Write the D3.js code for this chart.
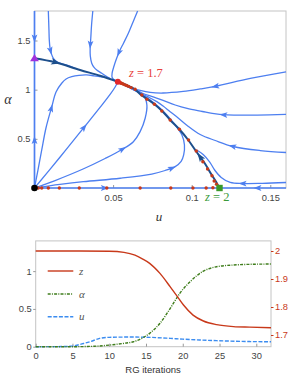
<!DOCTYPE html>
<html>
<head>
<meta charset="utf-8">
<script src="https://cdn.jsdelivr.net/npm/d3@7"></script>
<style>
  body { margin: 0; background: #fff; }
</style>
</head>
<body>
<svg width="299" height="387"></svg>
<script>
// ---- phase portrait, points are [u, alpha] ----
const lineS1 = [[0.0088,1.80],[0.0092,1.607],[0.0094,1.506],[0.0099,1.421],[0.0108,1.363],[0.012,1.319],[0.014,1.287],[0.0162,1.269],[0.0201,1.251],[0.026,1.216]];
const lineS2 = [[0.0371,1.80],[0.0363,1.658],[0.0358,1.523],[0.0354,1.421],[0.0355,1.343],[0.0364,1.269],[0.0379,1.226],[0.0396,1.200],[0.0428,1.167],[0.0449,1.144],[0.0481,1.113]];
const lineS3 = [[0.0656,1.80],[0.0627,1.689],[0.0597,1.574],[0.0567,1.475],[0.054,1.389],[0.0522,1.317],[0.0506,1.241],[0.0494,1.170],[0.0494,1.124],[0.0513,1.094],[0.053,1.081]];
const lineL1 = [[0,0],[0.0022,0.183],[0.0046,0.387],[0.0073,0.610],[0.011,0.827],[0.0137,0.977],[0.0173,1.065],[0.0201,1.109],[0.0237,1.132],[0.0283,1.146],[0.0332,1.150],[0.0379,1.141],[0.0443,1.126]];
const lineL2 = [[0,0],[0.0163,0.315],[0.0311,0.608],[0.0417,0.819],[0.0481,0.951],[0.0513,1.027],[0.053,1.081]];
const lineL3 = [[0,0],[0.0131,0.076],[0.0309,0.193],[0.0449,0.300],[0.0557,0.392],[0.0629,0.471],[0.0672,0.573],[0.0704,0.709],[0.0715,0.844],[0.0693,0.946],[0.064,1.002],[0.0583,1.048],[0.053,1.081]];
const lineL4 = [[0,0],[0.0162,0.036],[0.0311,0.064],[0.0545,0.099],[0.0746,0.142],[0.0831,0.178],[0.0895,0.217],[0.0933,0.270],[0.0949,0.336],[0.0954,0.437],[0.0938,0.539],[0.0895,0.641],[0.0842,0.743],[0.0789,0.827],[0.0736,0.895],[0.0672,0.963],[0.0608,1.017],[0.053,1.081]];
const lineR1 = [[0.16,1.180],[0.1373,1.114],[0.115,1.033],[0.1054,1.007],[0.0946,0.982],[0.0818,0.966],[0.0736,0.972],[0.0672,0.992],[0.0608,1.022],[0.053,1.081]];
const lineR2 = [[0.16,0.748],[0.1417,0.741],[0.1226,0.743],[0.1131,0.758],[0.1068,0.778],[0.0971,0.809],[0.0895,0.844],[0.0818,0.890],[0.0755,0.926],[0.0691,0.961],[0.0627,1.007],[0.057,1.051],[0.053,1.081]];
const lineR3 = [[0.16,0.361],[0.1436,0.381],[0.1264,0.422],[0.115,0.483],[0.1054,0.544],[0.0971,0.636],[0.0914,0.712],[0.0863,0.776],[0.0818,0.834],[0.0778,0.878],[0.0723,0.926],[0.0659,0.977],[0.0596,1.027],[0.053,1.081]];
const lineR4 = [[0.16,0.056],[0.1449,0.048],[0.1328,0.046],[0.1245,0.056],[0.1188,0.107],[0.1146,0.183],[0.1115,0.264],[0.1073,0.341],[0.1032,0.387]];
const axisTop = [[0,1.8],[0,1.32]];
const axisBottom = [[0,0],[0,1.32]];
const baseLeft = [[0,0],[0.1177,0]];
const baseRight = [[0.16,0],[0.1177,0]];
const sepA = [[0,1.32],[0.0131,1.279],[0.029,1.200],[0.0417,1.142],[0.053,1.081]];
const sepB = [[0.1175,0],[0.1156,0.061],[0.1124,0.142],[0.1086,0.244],[0.1054,0.315],[0.1022,0.387],[0.0978,0.488],[0.092,0.600],[0.0863,0.692],[0.0812,0.783],[0.0761,0.855],[0.0717,0.905],[0.0678,0.946],[0.064,1.002],[0.0583,1.048],[0.053,1.081]];
const rgDots = [[0.0024,0],[0.0046,0],[0.0088,0],[0.0158,0],[0.0285,0],[0.046,0],[0.0672,0],[0.0867,0],[0.1008,0],[0.1092,0],[0.1135,0.003],[0.1158,0.038],[0.1143,0.071],[0.1129,0.125],[0.1101,0.193],[0.1071,0.267],[0.1029,0.376],[0.098,0.488],[0.0922,0.597],[0.0863,0.692],[0.081,0.783],[0.0763,0.851],[0.0715,0.902],[0.0683,0.946],[0.064,1.004],[0.0615,1.021],[0.0599,1.033],[0.0586,1.042],[0.0575,1.049],[0.0566,1.056],[0.0557,1.062],[0.0551,1.066],[0.0546,1.070],[0.0542,1.073],[0.0539,1.075],[0.0536,1.077],[0.0534,1.078]];
const fpGauss = [0, 0], fpAxis = [0, 1.32], fpZ17 = [0.053, 1.081], fpZ2 = [0.1177, 0];
const topXTicks = [0.05, 0.1, 0.15], topYTicks = [0.5, 1, 1.5];

// ---- RG iteration curves, points are [iteration, value] ----
const zSeries = [[0,2],[6,2],[10,1.999],[12,1.995],[13.5,1.985],[14.5,1.972],[15.5,1.956],[16.9,1.92],[18.3,1.872],[19.2,1.84],[20.1,1.807],[21.4,1.771],[22.8,1.75],[24.6,1.737],[26.9,1.73],[29.1,1.728],[32,1.726]];
const alphaSeries = [[0,0],[5,0],[8,0.006],[10.1,0.022],[12,0.045],[13.3,0.066],[14.5,0.115],[15.5,0.177],[16.9,0.31],[18.3,0.508],[19.6,0.706],[21,0.86],[22.8,1.0],[24.6,1.058],[26.9,1.081],[29.1,1.09],[32,1.094]];
const uSeries = [[0,0],[3.5,0.002],[4.8,0.008],[5.6,0.02],[6.5,0.042],[7.4,0.066],[8.7,0.11],[10,0.124],[13.2,0.128],[15.5,0.124],[18.3,0.11],[20,0.1],[22.3,0.089],[24.6,0.08],[29.1,0.068],[32,0.066]];
const iterTicks = [0, 5, 10, 15, 20, 25, 30], leftTicks = [0, 0.5, 1], zTicks = [1.7, 1.8, 1.9, 2];

const blue = '#4d7ff0', navy = '#1d4f8c', rust = '#c8391a', green = '#3f7d1c', ublue = '#3b8cf0';
const sans = '"Liberation Sans", Arial, sans-serif', serif = '"Liberation Serif", "Times New Roman", serif';

const svg = d3.select('svg');

// top panel scales
const x = d3.scaleLinear().domain([0, 0.16]).range([34.5, 286]);
const y = d3.scaleLinear().domain([0, 1.8]).range([188, 11]);
const line = d3.line().x(d => x(d[0])).y(d => y(d[1])).curve(d3.curveCatmullRom.alpha(0.5));

svg.append('rect').attr('x', x(0)).attr('y', y(1.8)).attr('width', x(0.16) - x(0)).attr('height', y(0) - y(1.8))
    .attr('fill', 'none').attr('stroke', '#c4c4c4').attr('stroke-width', 1);

function styleAxis(g, color) {
    g.select('.domain').remove();
    g.selectAll('line').attr('stroke', '#999');
    g.selectAll('text').attr('font-family', sans).attr('font-size', 9.3).attr('fill', color || '#444');
}

svg.append('g').attr('transform', `translate(0,${y(0)})`)
    .call(d3.axisBottom(x).tickValues(topXTicks).tickSizeInner(-3).tickSizeOuter(0).tickPadding(6.5).tickFormat(d => d))
    .call(g => styleAxis(g));
svg.append('g').attr('transform', `translate(${x(0)},0)`)
    .call(d3.axisLeft(y).tickValues(topYTicks).tickSizeInner(-3).tickSizeOuter(0).tickPadding(4).tickFormat(d => d))
    .call(g => styleAxis(g));

function drawArrow(path, at, color, size) {
    const node = path.node();
    const len = node.getTotalLength();
    const p = node.getPointAtLength(at * len);
    const q = node.getPointAtLength(Math.min(len, at * len + 1));
    const ang = Math.atan2(q.y - p.y, q.x - p.x) * 180 / Math.PI;
    const s = size;
    svg.append('path')
        .attr('d', `M${s},0L${-s},${-s * 0.72}L${-s * 0.55},0L${-s},${s * 0.72}Z`)
        .attr('transform', `translate(${p.x},${p.y}) rotate(${ang})`)
        .attr('fill', color);
}

const streams = [
    {pts: lineS1, at: 0.55}, {pts: lineS2, at: 0.44}, {pts: lineS3, at: 0.58},
    {pts: lineL1, at: 0.53}, {pts: lineL2, at: 0.58}, {pts: lineL3, at: 0.51}, {pts: lineL4, at: 0.53},
    {pts: lineR1, at: 0.42}, {pts: lineR2, at: 0.36}, {pts: lineR3, at: 0.29}, {pts: lineR4, at: 0.42}
];
streams.forEach(s => {
    const p = svg.append('path').datum(s.pts).attr('d', line)
        .attr('fill', 'none').attr('stroke', blue).attr('stroke-width', 1.3);
    drawArrow(p, s.at, blue, 4);
});

[{pts: axisTop, at: 0.58}, {pts: axisBottom, at: 0.37}, {pts: baseLeft, at: 0.38}, {pts: baseRight, at: 0.43}].forEach(s => {
    const p = svg.append('path').datum(s.pts).attr('d', d3.line().x(d => x(d[0])).y(d => y(d[1])))
        .attr('fill', 'none').attr('stroke', blue).attr('stroke-width', 1.7);
    drawArrow(p, s.at, blue, 4);
});

[{pts: sepA, at: 0.25}, {pts: sepB, at: 0.245}].forEach(s => {
    const p = svg.append('path').datum(s.pts).attr('d', line)
        .attr('fill', 'none').attr('stroke', navy).attr('stroke-width', 2);
    drawArrow(p, s.at, navy, 4.5);
});

svg.append('g').selectAll('circle').data(rgDots).join('circle')
    .attr('cx', d => x(d[0])).attr('cy', d => y(d[1])).attr('r', 1.7).attr('fill', rust);

// fixed points
svg.append('circle').attr('cx', x(fpGauss[0])).attr('cy', y(fpGauss[1])).attr('r', 3.3).attr('fill', '#000');
svg.append('path').attr('d', 'M0,-4.2L4.4,3L-4.4,3Z')
    .attr('transform', `translate(${x(fpAxis[0])},${y(fpAxis[1])})`).attr('fill', '#a032dc');
svg.append('circle').attr('cx', x(fpZ17[0])).attr('cy', y(fpZ17[1])).attr('r', 3).attr('fill', '#e3262a');
svg.append('rect').attr('x', x(fpZ2[0]) - 3.2).attr('y', y(fpZ2[1]) - 3.2).attr('width', 6.4).attr('height', 6.4).attr('fill', '#3a9a28');

const lab1 = svg.append('text').attr('x', 129).attr('y', 77).attr('font-family', serif).attr('font-size', 12.5).attr('fill', '#e8403a');
lab1.append('tspan').attr('font-style', 'italic').text('z');
lab1.append('tspan').text(' = 1.7');
const lab2 = svg.append('text').attr('x', 205).attr('y', 201).attr('font-family', serif).attr('font-size', 12.5).attr('fill', '#3a9a3a');
lab2.append('tspan').attr('font-style', 'italic').text('z');
lab2.append('tspan').text(' = 2');

svg.append('text').attr('x', 159).attr('y', 221).attr('text-anchor', 'middle').attr('font-family', serif)
    .attr('font-style', 'italic').attr('font-size', 13).attr('fill', '#333').text('u');
svg.append('text').attr('x', 8).attr('y', 104).attr('text-anchor', 'middle').attr('font-family', serif)
    .attr('font-style', 'italic').attr('font-size', 14).attr('fill', '#333').text('α');

// ---- bottom panel ----
const x2 = d3.scaleLinear().domain([0, 32]).range([35.7, 271]);
const yL = d3.scaleLinear().domain([0, 1.4]).range([346.7, 240.9]);
const yR = d3.scaleLinear().domain([1.7, 2]).range([335, 251]);

svg.append('rect').attr('x', x2(0)).attr('y', yL(1.4)).attr('width', x2(32) - x2(0)).attr('height', yL(0) - yL(1.4))
    .attr('fill', 'none').attr('stroke', '#c4c4c4').attr('stroke-width', 1);

svg.append('g').attr('transform', `translate(0,${yL(0)})`)
    .call(d3.axisBottom(x2).tickValues(iterTicks).tickSizeInner(-3).tickSizeOuter(0).tickPadding(5.6))
    .call(g => styleAxis(g));
svg.append('g').attr('transform', `translate(${x2(0)},0)`)
    .call(d3.axisLeft(yL).tickValues(leftTicks).tickSizeInner(2.5).tickSizeOuter(0).tickPadding(1.5).tickFormat(d => d))
    .call(g => styleAxis(g));
svg.append('g').attr('transform', `translate(${x2(32)},0)`)
    .call(d3.axisRight(yR).tickValues(zTicks).tickSizeInner(2.5).tickSizeOuter(0).tickPadding(1.5).tickFormat(d => d))
    .call(g => { styleAxis(g, rust); g.selectAll('line').attr('stroke', rust); });

svg.append('text').attr('x', 153).attr('y', 373).attr('text-anchor', 'middle').attr('font-family', sans)
    .attr('font-size', 9.5).attr('fill', '#333').text('RG iterations');

const lineU = d3.line().x(d => x2(d[0])).y(d => yL(d[1])).curve(d3.curveMonotoneX);
const lineZ = d3.line().x(d => x2(d[0])).y(d => yR(d[1])).curve(d3.curveMonotoneX);

svg.append('path').datum(uSeries).attr('d', lineU).attr('fill', 'none').attr('stroke', ublue)
    .attr('stroke-width', 1.4).attr('stroke-dasharray', '4,1.6');
svg.append('path').datum(alphaSeries).attr('d', lineU).attr('fill', 'none').attr('stroke', green)
    .attr('stroke-width', 1.4).attr('stroke-dasharray', '3,1.2,1,1.2');
svg.append('path').datum(zSeries).attr('d', lineZ).attr('fill', 'none').attr('stroke', rust).attr('stroke-width', 1.4);

// legend
const legend = [
    {name: 'z', color: rust, dash: null, y: 271},
    {name: 'α', color: green, dash: '3,1.2,1,1.2', y: 294},
    {name: 'u', color: ublue, dash: '4,1.6', y: 316.7}
];
legend.forEach(l => {
    svg.append('line').attr('x1', 47.7).attr('x2', 73.3).attr('y1', l.y).attr('y2', l.y)
        .attr('stroke', l.color).attr('stroke-width', 1.4).attr('stroke-dasharray', l.dash);
    svg.append('text').attr('x', 79).attr('y', l.y + 3.5).attr('font-family', serif).attr('font-style', 'italic')
        .attr('font-size', 11).attr('fill', '#555').text(l.name);
});
</script>
</body>
</html>
